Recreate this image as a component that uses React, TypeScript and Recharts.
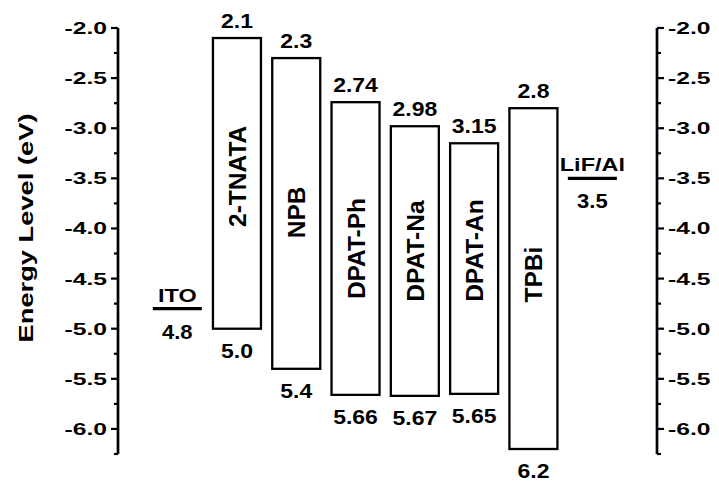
import { ComposedChart, Bar, Scatter, XAxis, YAxis } from "recharts";

document.body.style.margin = "0";

// organic layers: LUMO (top) and HOMO (bottom), in eV below vacuum
const LAYERS = ["2-TNATA", "NPB", "DPAT-Ph", "DPAT-Na", "DPAT-An", "TPBi"];
const LUMO = [2.1, 2.3, 2.74, 2.98, 3.15, 2.8];
const HOMO = [5.0, 5.4, 5.66, 5.67, 5.65, 6.2];

// electrodes and their work functions
const ELECTRODES = ["ITO", "LiF/Al"];
const WORK_FUNCTION = [4.8, 3.5];

const Y_TICKS = [
  -6.25, -6.0, -5.75, -5.5, -5.25, -5.0, -4.75, -4.5, -4.25,
  -4.0, -3.75, -3.5, -3.25, -3.0, -2.75, -2.5, -2.25, -2.0,
];
const MAJOR_TICKS = [-6.0, -5.5, -5.0, -4.5, -4.0, -3.5, -3.0, -2.5, -2.0];

const layerData = LAYERS.map((name, i) => ({
  x: i + 1,
  name,
  lumo: LUMO[i],
  homo: HOMO[i],
}));

const electrodeData = ELECTRODES.map((name, i) => ({
  x: i === 0 ? 0 : LAYERS.length + 1,
  y: -WORK_FUNCTION[i],
  name,
  wf: WORK_FUNCTION[i],
}));

const X_TICKS = [0, ...layerData.map((d) => d.x), LAYERS.length + 1];

// small nudges so the rotated names sit where they do in the figure
const NAME_SHIFT = [-7, -1, 0, -10, -18, -4];

const FONT = "'Liberation Sans', Arial, Helvetica, sans-serif";

const fmt = (v: number) => (Number.isInteger(v) ? v.toFixed(1) : String(v));

const BoxShape = (props: any) => {
  const { x, y, width, height, index } = props;
  const d = props.payload ?? props;
  const top = Math.min(y, y + height);
  const h = Math.abs(height);
  const cx = x + width / 2;
  const nameY = top + h / 2 + (NAME_SHIFT[index] ?? 0);
  return (
    <g>
      <rect x={x} y={top} width={width} height={h} fill="#fff" stroke="#000" strokeWidth={2.3} />
      <text
        transform={`translate(${cx} ${top - 10}) scale(1.15 1)`}
        textAnchor="middle"
        fontFamily={FONT}
        fontWeight="bold"
        fontSize={20}
      >
        {fmt(d.lumo)}
      </text>
      <text
        transform={`translate(${cx} ${top + h + 29}) scale(1.15 1)`}
        textAnchor="middle"
        fontFamily={FONT}
        fontWeight="bold"
        fontSize={20}
      >
        {fmt(d.homo)}
      </text>
      <text
        transform={`translate(${cx + 9} ${nameY}) rotate(-90)`}
        textAnchor="middle"
        fontFamily={FONT}
        fontWeight="bold"
        fontSize={24.5}
      >
        {d.name}
      </text>
    </g>
  );
};

const ElectrodeShape = (props: any) => {
  const { cx, cy } = props;
  const d = props.payload ?? props;
  return (
    <g>
      <line x1={cx - 24.5} x2={cx + 24.5} y1={cy} y2={cy} stroke="#000" strokeWidth={3.2} />
      <text
        transform={`translate(${cx} ${cy - 7}) scale(1.27 1)`}
        textAnchor="middle"
        fontFamily={FONT}
        fontWeight="bold"
        fontSize={18.5}
      >
        {d.name}
      </text>
      <text
        transform={`translate(${cx} ${cy + 30}) scale(1.1 1)`}
        textAnchor="middle"
        fontFamily={FONT}
        fontWeight="bold"
        fontSize={20}
      >
        {fmt(d.wf)}
      </text>
    </g>
  );
};

const isMajor = (v: number) => MAJOR_TICKS.some((m) => Math.abs(m - v) < 1e-6);

const LeftTick = (props: any) => {
  const { x, y, payload } = props;
  const major = isMajor(payload.value);
  return (
    <g>
      <line x1={x} x2={x - (major ? 7 : 4)} y1={y} y2={y} stroke="#000" strokeWidth={2.2} />
      {major && (
        <text
          transform={`translate(${x - 11} ${y + 6}) scale(1.45 1)`}
          textAnchor="end"
          fontFamily={FONT}
          fontWeight="bold"
          fontSize={17}
          fill="#000"
        >
          {payload.value.toFixed(1)}
        </text>
      )}
    </g>
  );
};

const RightTick = (props: any) => {
  const { x, y, payload } = props;
  const major = isMajor(payload.value);
  return (
    <g>
      <line x1={x} x2={x + (major ? 7 : 4)} y1={y} y2={y} stroke="#000" strokeWidth={2.2} />
      {major && (
        <text
          transform={`translate(${x + 11} ${y + 6}) scale(1.45 1)`}
          textAnchor="start"
          fontFamily={FONT}
          fontWeight="bold"
          fontSize={17}
          fill="#000"
        >
          {payload.value.toFixed(1)}
        </text>
      )}
    </g>
  );
};

const AxisTitle = () => (
  <text
    transform="translate(33 228) rotate(-90) scale(1.3 1)"
    textAnchor="middle"
    fontFamily={FONT}
    fontWeight="bold"
    fontSize={21}
    fill="#000"
  >
    Energy Level (eV)
  </text>
);

export default function App() {
  return (
    <ComposedChart
      width={719}
      height={487}
      data={layerData}
      margin={{ top: 28, right: 0, bottom: 33, left: 0 }}
    >
      <XAxis dataKey="x" type="number" domain={[-1, 8.09]} ticks={X_TICKS} hide />
      <YAxis
        yAxisId="left"
        type="number"
        domain={[-6.25, -2]}
        ticks={Y_TICKS}
        interval={0}
        width={118}
        axisLine={{ stroke: "#000", strokeWidth: 2.7 }}
        tickLine={false}
        tickSize={0}
        tickMargin={0}
        tick={<LeftTick />}
        label={{ content: () => <AxisTitle /> }}
      />
      <YAxis
        yAxisId="right"
        orientation="right"
        type="number"
        domain={[-6.25, -2]}
        ticks={Y_TICKS}
        interval={0}
        allowDataOverflow
        width={62}
        axisLine={{ stroke: "#000", strokeWidth: 2.7 }}
        tickLine={false}
        tickSize={0}
        tickMargin={0}
        tick={<RightTick />}
      />
      <Bar
        yAxisId="left"
        dataKey={(d: any) => [-d.homo, -d.lumo]}
        barSize={48}
        shape={<BoxShape />}
        isAnimationActive={false}
      />
      <Scatter
        yAxisId="left"
        data={electrodeData}
        dataKey="y"
        shape={<ElectrodeShape />}
        isAnimationActive={false}
      />
    </ComposedChart>
  );
}
